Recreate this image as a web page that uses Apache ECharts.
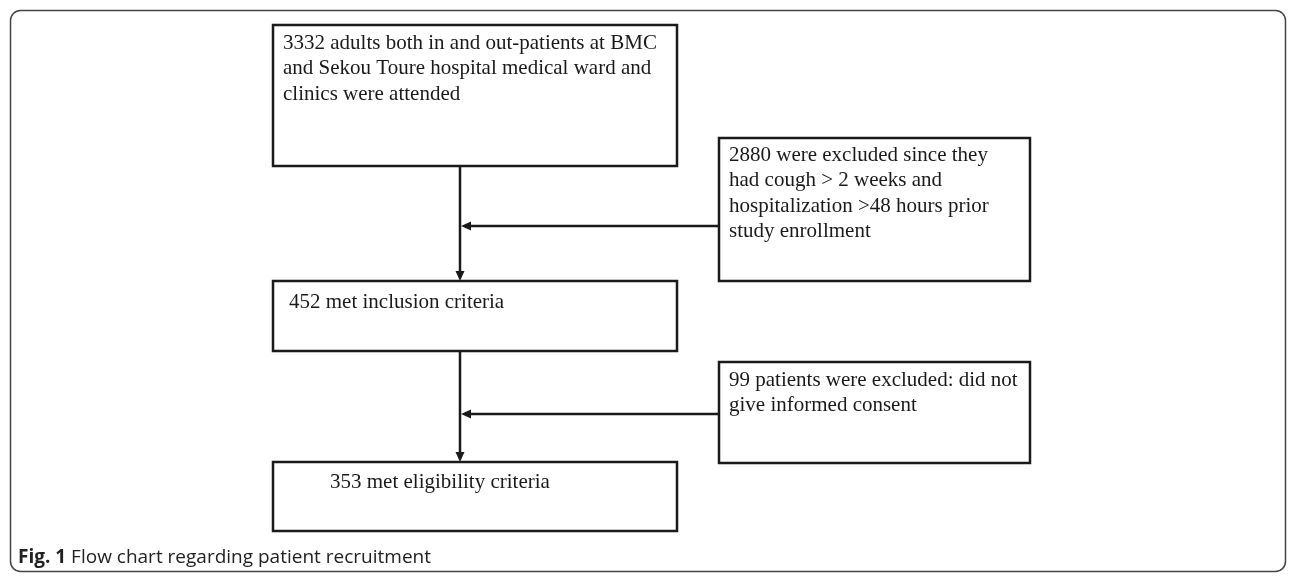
<!DOCTYPE html>
<html>
<head>
<meta charset="utf-8">
<style>html,body{margin:0;padding:0;background:#fff}#chart{width:1290px;height:576px}</style>
<script src="https://cdn.jsdelivr.net/npm/echarts@6/dist/echarts.min.js"></script>
</head>
<body>
<div id="chart"></div>
<script>
// flow steps: counts + the wording that follows them
var stepCounts = [3332, 2880, 452, 99, 353];
var stepLabels = [
	'adults both in and out-patients at BMC\nand Sekou Toure hospital medical ward and\nclinics were attended',
	'were excluded since they\nhad cough > 2 weeks and\nhospitalization >48 hours prior\nstudy enrollment',
	'met inclusion criteria',
	'patients were excluded: did not\ngive informed consent',
	'met eligibility criteria'
];
var captionBold = 'Fig. 1';
var captionText = 'Flow chart regarding patient recruitment';

// layout (page units): box x0,y0,x1,y1, text x, first line centre y
var boxLayout = [
	[273, 25, 677, 166, 283, 43],
	[719, 138, 1030, 281, 729, 155],
	[273, 281, 677, 351, 289, 302],
	[719, 362, 1030, 463, 729, 380],
	[273, 462, 677, 531, 330, 482]
];
// connectors: from x,y to x,y (arrow at the end)
var arrowLayout = [
	[460, 166, 460, 281],
	[719, 226, 461, 226],
	[460, 351, 460, 462],
	[719, 414, 461, 414]
];

var LH = 25.5;
var ink = '#1a1a1a';

var boxData = [];
for (var i = 0; i < stepCounts.length; i++) {
	boxData.push(boxLayout[i].concat([i]));
}

var myChart = echarts.init(document.getElementById('chart'));
var option = {
	animation: false,
	backgroundColor: '#fff',
	title: {
		text: '{b|' + captionBold + '} ' + captionText,
		left: 13, top: 543,
		textStyle: {
			fontFamily: 'Open Sans', fontSize: 19, fontWeight: 'normal', color: '#222',
			rich: { b: { fontFamily: 'Open Sans', fontSize: 19, fontWeight: 'bold', color: '#222' } }
		}
	},
	graphic: [{
		type: 'rect', left: 8, top: 8, z: -1,
		shape: { width: 1275, height: 561, r: 10 },
		style: { fill: 'none', stroke: '#444', lineWidth: 1.5 }
	}],
	grid: { left: 0, right: 0, top: 0, bottom: 0 },
	xAxis: { type: 'value', min: 0, max: 1290, show: false },
	yAxis: { type: 'value', min: 0, max: 576, inverse: true, show: false },
	series: [{
		type: 'custom',
		data: boxData,
		renderItem: function (params, api) {
			var p0 = api.coord([api.value(0), api.value(1)]);
			var p1 = api.coord([api.value(2), api.value(3)]);
			var t = api.coord([api.value(4), api.value(5)]);
			var k = api.value(6);
			return {
				type: 'group',
				children: [{
					type: 'rect',
					shape: { x: p0[0], y: p0[1], width: p1[0] - p0[0], height: p1[1] - p0[1] },
					style: { fill: '#fff', stroke: ink, lineWidth: 2.5 }
				}, {
					type: 'text',
					x: t[0], y: t[1] - LH / 2,
					style: {
						text: stepCounts[k] + ' ' + stepLabels[k],
						fontFamily: 'Liberation Serif', fontSize: 21, lineHeight: LH,
						fill: ink, verticalAlign: 'top', align: 'left'
					}
				}]
			};
		}
	}, {
		type: 'custom',
		data: arrowLayout,
		renderItem: function (params, api) {
			var a = api.coord([api.value(0), api.value(1)]);
			var b = api.coord([api.value(2), api.value(3)]);
			var dx = b[0] - a[0], dy = b[1] - a[1];
			var len = Math.sqrt(dx * dx + dy * dy);
			var ux = dx / len, uy = dy / len;
			var hl = 10, hw = 4.5;
			var base = [b[0] - ux * hl, b[1] - uy * hl];
			return {
				type: 'group',
				children: [{
					type: 'line',
					shape: { x1: a[0], y1: a[1], x2: base[0], y2: base[1] },
					style: { stroke: ink, lineWidth: 2.5 }
				}, {
					type: 'polygon',
					shape: { points: [b, [base[0] - uy * hw, base[1] + ux * hw], [base[0] + uy * hw, base[1] - ux * hw]] },
					style: { fill: ink }
				}]
			};
		}
	}]
};
myChart.setOption(option);
</script>
</body>
</html>
